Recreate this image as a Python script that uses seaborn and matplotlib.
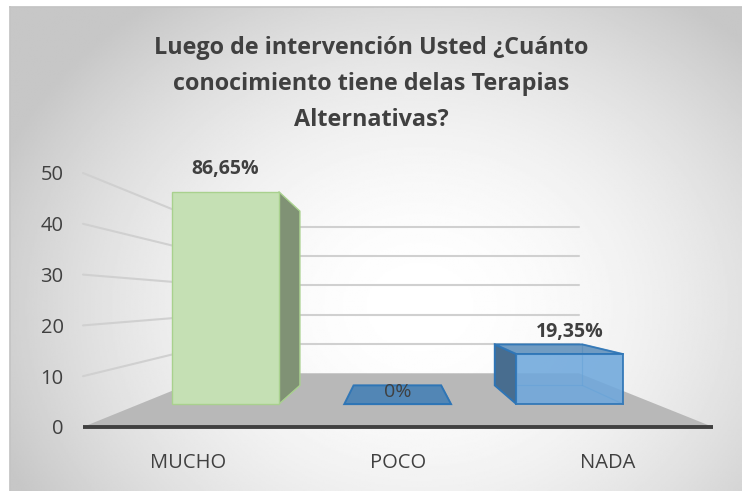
import numpy as np
import matplotlib
matplotlib.use("Agg")
import matplotlib.pyplot as plt
import matplotlib.transforms as mtransforms
from matplotlib.patches import Polygon, Rectangle
import matplotlib.colors as mcolors
import seaborn as sns

# datos
categorias = ["MUCHO", "POCO", "NADA"]
valores = [51, 0, 12]
etiquetas = ["86,65%", "0%", "19,35%"]
yticks = [0, 10, 20, 30, 40, 50]
titulo = "Luego de intervención Usted ¿Cuánto\nconocimiento tiene delas Terapias\nAlternativas?"

# estilo
colores = {"MUCHO": "#c5e0b4", "POCO": "#5b9bd5", "NADA": "#6fa8dc"}
bordes = {"MUCHO": "#a9d18e", "POCO": "#2e75b6", "NADA": "#2e75b6"}
alfa = {"MUCHO": 1.0, "POCO": 0.95, "NADA": 0.88}

sns.set_theme(style="white")
plt.rcParams["font.family"] = ["Open Sans", "DejaVu Sans"]

W, H = 742, 491
fig = plt.figure(figsize=(W / 100, H / 100), dpi=100)
fig.patch.set_facecolor("white")

# fondo con degradado radial
bg = fig.add_axes([10 / W, 0, (W - 10) / W, (H - 7) / H], zorder=-10)
yy, xx = np.mgrid[0:1:300j, 0:1:450j]
r = np.sqrt(((xx - 0.56) / 0.62) ** 2 + ((yy - 0.62) / 0.78) ** 2)
gris = 1 - 0.22 * np.clip(r, 0, 1) ** 1.9
bg.imshow(gris, cmap="gray", vmin=0, vmax=1, aspect="auto", extent=[0, 1, 0, 1])
bg.set_xticks([])
bg.set_yticks([])
for lado, sp in bg.spines.items():
    sp.set_visible(lado in ("top", "left"))
    sp.set_color("#c4c4c4")

ax = fig.add_axes([83 / W, 64 / H, 630 / W, 254 / H])
ax.set_facecolor("none")
sns.barplot(x=categorias, y=valores, hue=categorias, palette=colores, width=0.62,
            saturation=1, errorbar=None, legend=False, ax=ax)
barras = sorted([p for p in ax.patches if isinstance(p, Rectangle)], key=lambda p: p.get_x())
ax.set_xlim(-0.5, 2.5)
ax.set_ylim(0, 50)
ax.set_autoscale_on(False)
ax.set_yticks(yticks)
ax.set_xlabel("")
ax.set_ylabel("")
ax.grid(False)
for sp in ax.spines.values():
    sp.set_visible(False)
ax.tick_params(axis="both", length=0, labelsize=14.5, labelcolor="#404040")
ax.tick_params(axis="y", pad=14)
ax.tick_params(axis="x", pad=19)

# perspectiva: punto de fuga y profundidades
vx, vy = 396, 191
S_BAR, S_FONDO_BAR, S_PARED = 0.82, 0.82 * 0.82, 0.577


def T(s):
    return ax.transData + mtransforms.Affine2D().translate(-vx, -vy).scale(s).translate(vx, vy)


ident = mtransforms.IdentityTransform()


def poly(pts, **kw):
    ax.add_patch(Polygon(pts, closed=True, transform=ident, clip_on=False, **kw))


def linea(p, q, **kw):
    ax.plot([p[0], q[0]], [p[1], q[1]], transform=ident, clip_on=False, **kw)


x_izq, x_der = ax.get_xlim()
# lineas de cuadricula en pared lateral y pared del fondo
for v in yticks[1:]:
    a = T(1).transform((x_izq, v))
    b = T(S_PARED).transform((x_izq, v))
    c = T(S_PARED).transform((x_der, v))
    linea(a, b, color="#d0d0d0", lw=1.5, zorder=0.5)
    linea(b, c, color="#d0d0d0", lw=1.5, zorder=0.5)

# piso
piso = [T(1).transform((x_izq, 0)), T(1).transform((x_der, 0)),
        T(S_PARED).transform((x_der, 0)), T(S_PARED).transform((x_izq, 0))]
poly(piso, facecolor="#b8b8b8", edgecolor="none", zorder=1)
ax.plot([x_izq, x_der], [0, 0], color="#404040", lw=2.8, solid_capstyle="butt",
        clip_on=False, zorder=1.5)

# barras en 3D a partir de los rectangulos de seaborn
for p, cat, lab in zip(barras, categorias, etiquetas):
    x0, w, h = p.get_x(), p.get_width(), p.get_height()
    x1 = x0 + w
    base = np.array(mcolors.to_rgb(colores[cat]))
    F = T(S_BAR).transform
    B = T(S_FONDO_BAR).transform
    ec = bordes[cat]
    lw = 1.0 if cat == "MUCHO" else 1.4

    # aristas ocultas (se ven a traves de la cara frontal)
    if alfa[cat] < 1:
        for a, b in [((x0, 0), (x1, 0)), ((x1, 0), (x1, h)), ((x0, h), (x1, h)), ((x0, 0), (x0, h))]:
            linea(B(a), B(b), color=ec, lw=0.9, alpha=0.6, zorder=2)
        linea(B((x1, 0)), F((x1, 0)), color=ec, lw=0.9, alpha=0.6, zorder=2)
        linea(B((x1, h)), F((x1, h)), color=ec, lw=0.9, alpha=0.6, zorder=2)

    # cara lateral
    if h > 0:
        if F((x1, 0))[0] < vx:
            lado = [F((x1, 0)), F((x1, h)), B((x1, h)), B((x1, 0))]
        else:
            lado = [F((x0, 0)), F((x0, h)), B((x0, h)), B((x0, 0))]
        poly(lado, facecolor=base * 0.65, edgecolor=ec, lw=lw, zorder=3)
    # cara superior
    if F(((x0 + x1) / 2, h))[1] < vy:
        tapa = [F((x0, h)), F((x1, h)), B((x1, h)), B((x0, h))]
        poly(tapa, facecolor=base * 0.85, edgecolor=ec, lw=lw, alpha=alfa[cat], zorder=3)

    # cara frontal
    p.set_transform(T(S_BAR))
    p.set_edgecolor(ec)
    p.set_linewidth(lw)
    p.set_alpha(alfa[cat])
    p.set_zorder(4)
    p.set_clip_on(False)

    ax.annotate(lab, xy=((x0 + x1) / 2, h), xycoords=T(S_BAR),
                xytext=(0, 16 if h > 0 else 8.5), textcoords="offset points",
                ha="center", va="center", fontsize=14,
                fontweight="bold" if h > 0 else "normal",
                color="#404040", zorder=5, annotation_clip=False)

fig.text(371 / W, 1 - 84 / H, titulo, ha="center", va="center", fontsize=16.8,
         fontweight="bold", color="#404040", linespacing=1.65)

fig.savefig("out.png", dpi=100)
